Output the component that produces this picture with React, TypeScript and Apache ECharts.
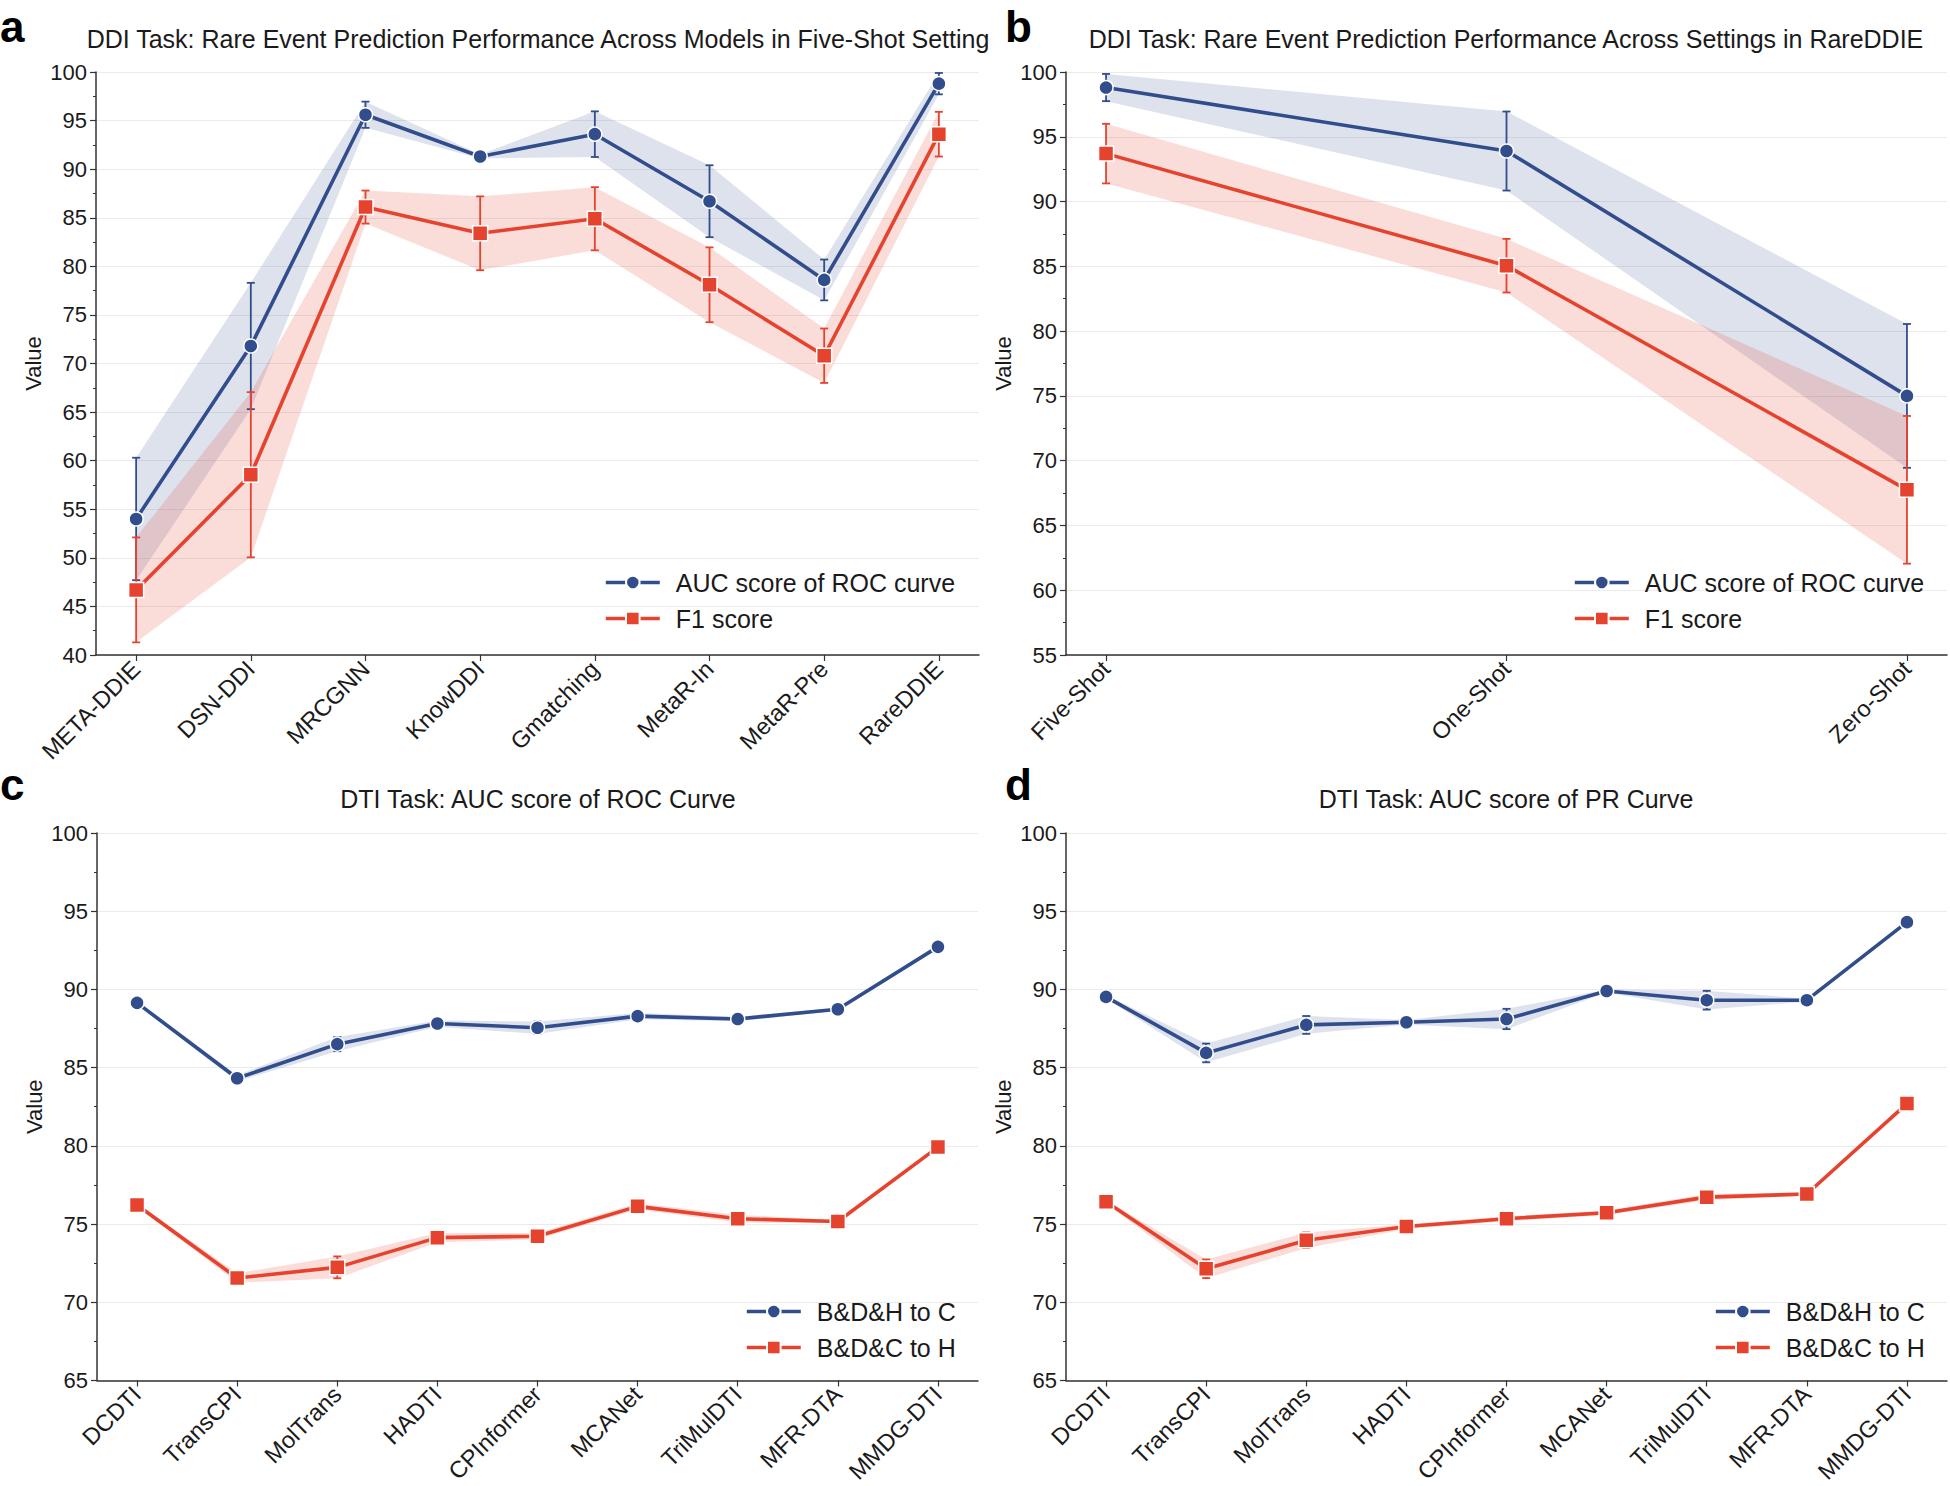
import React, { useEffect, useRef } from "react";
import * as echarts from "echarts";

// ---------- data ----------
const ddiModels = ["META-DDIE", "DSN-DDI", "MRCGNN", "KnowDDI", "Gmatching", "MetaR-In", "MetaR-Pre", "RareDDIE"];
const ddiModelAuc = [54.0, 71.8, 95.6, 91.3, 93.6, 86.7, 78.6, 98.8];
const ddiModelAucErr = [6.3, 6.5, 1.35, 0.2, 2.35, 3.7, 2.1, 1.1];
const ddiModelF1 = [46.7, 58.55, 86.1, 83.4, 84.9, 78.1, 70.8, 93.6];
const ddiModelF1Err = [5.4, 8.5, 1.7, 3.8, 3.25, 3.85, 2.8, 2.3];

const ddiSettings = ["Five-Shot", "One-Shot", "Zero-Shot"];
const ddiSettingAuc = [98.8, 93.9, 75.0];
const ddiSettingAucErr = [1.05, 3.05, 5.55];
const ddiSettingF1 = [93.7, 85.05, 67.75];
const ddiSettingF1Err = [2.3, 2.07, 5.7];

const dtiModels = ["DCDTI", "TransCPI", "MolTrans", "HADTI", "CPInformer", "MCANet", "TriMulDTI", "MFR-DTA", "MMDG-DTI"];
const rocToC = [89.14, 84.32, 86.5, 87.82, 87.55, 88.29, 88.11, 88.73, 92.72];
const rocToCErr = [0.1, 0.2, 0.45, 0.2, 0.4, 0.2, 0.15, 0.1, 0.1];
const rocToH = [76.22, 71.55, 72.23, 74.13, 74.22, 76.13, 75.34, 75.16, 79.92];
const rocToHErr = [0.1, 0.3, 0.7, 0.3, 0.2, 0.2, 0.25, 0.1, 0.1];
const prToC = [89.52, 85.94, 87.73, 87.9, 88.11, 89.9, 89.31, 89.31, 94.3];
const prToCErr = [0.1, 0.6, 0.57, 0.15, 0.65, 0.1, 0.6, 0.1, 0.1];
const prToH = [76.42, 72.14, 73.96, 74.84, 75.34, 75.72, 76.72, 76.92, 82.7];
const prToHErr = [0.1, 0.6, 0.5, 0.15, 0.15, 0.15, 0.2, 0.1, 0.1];

const ddiSeriesNames = ["AUC score of ROC curve", "F1 score"];
const dtiSeriesNames = ["B&D&H to C", "B&D&C to H"];

const panelTitles = [
  "DDI Task: Rare Event Prediction Performance Across Models in Five-Shot Setting",
  "DDI Task: Rare Event Prediction Performance Across Settings in RareDDIE",
  "DTI Task: AUC score of ROC Curve",
  "DTI Task: AUC score of PR Curve",
];
const panelLetters = ["a", "b", "c", "d"];
const yRanges = [
  [40, 100],
  [55, 100],
  [65, 100],
  [65, 100],
];

// ---------- styles ----------
const FONT = '"Liberation Sans", Arial, Helvetica, sans-serif';
const BLUE = "#324d8c";
const RED = "#e6432f";
const TEXT = "#1a1a1a";
const AXIS = "#333333";

type Panel = {
  cats: string[];
  names: string[];
  means: number[][];
  errs: number[][];
};

const panels: Panel[] = [
  { cats: ddiModels, names: ddiSeriesNames, means: [ddiModelAuc, ddiModelF1], errs: [ddiModelAucErr, ddiModelF1Err] },
  { cats: ddiSettings, names: ddiSeriesNames, means: [ddiSettingAuc, ddiSettingF1], errs: [ddiSettingAucErr, ddiSettingF1Err] },
  { cats: dtiModels, names: dtiSeriesNames, means: [rocToC, rocToH], errs: [rocToCErr, rocToHErr] },
  { cats: dtiModels, names: dtiSeriesNames, means: [prToC, prToH], errs: [prToCErr, prToHErr] },
];

const grids = [
  { left: 96, top: 72, width: 883, height: 583 },
  { left: 1066, top: 72, width: 881, height: 583 },
  { left: 97, top: 833, width: 881, height: 551 },
  { left: 1066, top: 833, width: 881, height: 551 },
];
const titlePos = [
  [538, 39],
  [1506, 39],
  [538, 799],
  [1506, 799],
];
const letterPos = [
  [0, 26],
  [1005, 26],
  [0, 784],
  [1005, 784],
];
const legendPos = [
  [604, 570],
  [1573, 570],
  [745, 1299],
  [1714, 1299],
];

function buildOption() {
  const colors = [BLUE, RED];
  const symbols = ["circle", "rect"];
  const xAxis: any[] = [];
  const yAxis: any[] = [];
  const series: any[] = [];
  const legend: any[] = [];
  const graphic: any[] = [];

  panels.forEach((p, pi) => {
    const n = p.cats.length;
    const pad = (n - 1) * 0.05;
    const idx = p.cats.map((_, i) => i);
    xAxis.push({
      type: "value",
      gridIndex: pi,
      min: -pad,
      max: n - 1 + pad,
      axisLine: { show: true, onZero: false, lineStyle: { color: AXIS, width: 1.5 } },
      axisTick: { show: true, customValues: idx, length: 6, lineStyle: { color: AXIS, width: 1.2 } },
      axisLabel: {
        customValues: idx,
        formatter: (v: number) => p.cats[Math.round(v)] ?? "",
        rotate: 45,
        margin: 10,
        fontSize: 23.5,
        fontFamily: FONT,
        color: TEXT,
      },
      splitLine: { show: false },
    });
    yAxis.push({
      type: "value",
      gridIndex: pi,
      min: yRanges[pi][0],
      max: yRanges[pi][1],
      interval: 5,
      name: "Value",
      nameLocation: "middle",
      nameGap: 52,
      nameRotate: 90,
      nameTextStyle: { fontSize: 22, fontFamily: FONT, color: TEXT },
      axisLine: { show: true, onZero: false, lineStyle: { color: AXIS, width: 1.5 } },
      axisTick: { show: true, length: 6, lineStyle: { color: AXIS, width: 1.2 } },
      minorTick: { show: true, splitNumber: 2, length: 3, lineStyle: { color: AXIS, width: 1 } },
      axisLabel: { margin: 9, fontSize: 22, fontFamily: FONT, color: TEXT },
      splitLine: { show: true, lineStyle: { color: "#ebebeb", width: 1.2 } },
    });

    // bands
    p.means.forEach((m, si) => {
      const e = p.errs[si];
      series.push({
        type: "custom",
        name: `band-${pi}-${si}`,
        xAxisIndex: pi,
        yAxisIndex: pi,
        silent: true,
        z: 1,
        data: m.map((v, i) => [i, v]),
        renderItem: (params: any, api: any) => {
          if (params.dataIndex !== 0) return null;
          const upper = m.map((v, i) => api.coord([i, v + e[i]]));
          const lower = m.map((v, i) => api.coord([i, v - e[i]])).reverse();
          return {
            type: "polygon",
            shape: { points: upper.concat(lower) },
            style: { fill: colors[si], opacity: si === 0 ? 0.16 : 0.18 },
          };
        },
      });
    });
    // error bars
    p.means.forEach((m, si) => {
      const e = p.errs[si];
      series.push({
        type: "custom",
        name: `err-${pi}-${si}`,
        xAxisIndex: pi,
        yAxisIndex: pi,
        silent: true,
        z: 2,
        data: m.map((v, i) => [i, v, e[i]]),
        renderItem: (params: any, api: any) => {
          const x = api.value(0);
          const v = api.value(1);
          const er = api.value(2);
          const top = api.coord([x, v + er]);
          const bot = api.coord([x, v - er]);
          const cap = 4;
          const st = { stroke: colors[si], lineWidth: 1.8 };
          return {
            type: "group",
            children: [
              { type: "line", shape: { x1: top[0], y1: top[1], x2: bot[0], y2: bot[1] }, style: st },
              { type: "line", shape: { x1: top[0] - cap, y1: top[1], x2: top[0] + cap, y2: top[1] }, style: st },
              { type: "line", shape: { x1: bot[0] - cap, y1: bot[1], x2: bot[0] + cap, y2: bot[1] }, style: st },
            ],
          };
        },
      });
    });
    // lines
    p.means.forEach((m, si) => {
      series.push({
        type: "line",
        name: p.names[si],
        xAxisIndex: pi,
        yAxisIndex: pi,
        z: 3,
        data: m.map((v, i) => [i, v]),
        symbol: symbols[si],
        symbolSize: si === 0 ? 14 : 15,
        lineStyle: { color: colors[si], width: 3.6 },
        itemStyle: { color: colors[si], borderColor: "#ffffff", borderWidth: 1.5 },
      });
    });

    legend.push({
      orient: "vertical",
      left: legendPos[pi][0],
      top: legendPos[pi][1],
      padding: 0,
      data: p.names,
      itemWidth: 54,
      itemHeight: 17,
      itemGap: 11,
      selectedMode: false,
      lineStyle: { width: 3.6 },
      textStyle: { fontSize: 25, fontFamily: FONT, color: TEXT, padding: [0, 0, 0, 11], lineHeight: 25 },
    });

    graphic.push({
      type: "text",
      x: titlePos[pi][0],
      y: titlePos[pi][1],
      style: {
        text: panelTitles[pi],
        font: `25px ${FONT}`,
        fill: TEXT,
        textAlign: "center",
        textVerticalAlign: "middle",
      },
    });
    graphic.push({
      type: "text",
      x: letterPos[pi][0],
      y: letterPos[pi][1],
      style: {
        text: panelLetters[pi],
        font: `bold 44px ${FONT}`,
        fill: "#000000",
        textAlign: "left",
        textVerticalAlign: "middle",
      },
    });
  });

  return {
    animation: false,
    backgroundColor: "#ffffff",
    grid: grids.map((g) => ({ ...g, containLabel: false })),
    xAxis,
    yAxis,
    legend,
    graphic,
    series,
  };
}

export default function App() {
  const ref = useRef<HTMLDivElement>(null);
  useEffect(() => {
    document.body.style.margin = "0";
    if (!ref.current) return;
    const chart = echarts.init(ref.current, undefined, { renderer: "svg" });
    chart.setOption(buildOption() as any);
    return () => chart.dispose();
  }, []);
  return <div ref={ref} style={{ width: 1950, height: 1486 }} />;
}
